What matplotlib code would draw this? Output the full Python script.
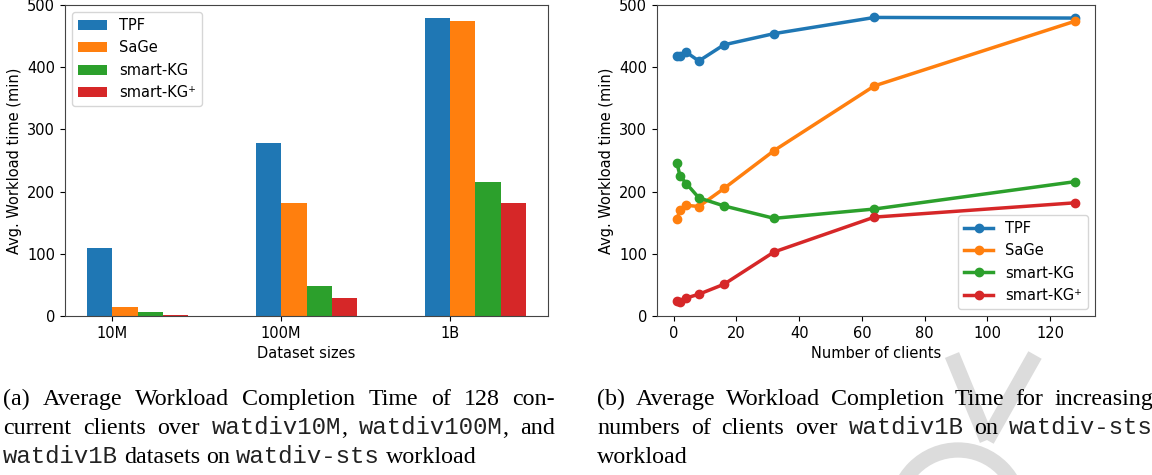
import matplotlib
matplotlib.use('Agg')
import matplotlib.pyplot as plt
import numpy as np
from matplotlib.transforms import IdentityTransform
from matplotlib.patches import Circle

# bar chart data (left)
datasets = ['10M', '100M', '1B']
systems = ['TPF', 'SaGe', 'smart-KG', 'smart-KG\u207a']
bar_tpf = [110, 278, 479]
bar_sage = [15, 181, 474]
bar_skg = [7, 48, 215]
bar_skgp = [2, 29, 181]

# line chart data (right)
clients = [1, 2, 4, 8, 16, 32, 64, 128]
line_tpf = [418, 418, 424, 410, 436, 454, 480, 479]
line_sage = [156, 170, 178, 176, 205, 266, 370, 474]
line_skg = [246, 225, 213, 190, 177, 157, 172, 216]
line_skgp = [24, 23, 29, 35, 51, 103, 159, 182]

plt.rcParams['font.size'] = 10.5

W, H = 1152, 475
fig = plt.figure(figsize=(W / 100, H / 100), dpi=100)

# watermark in a full-figure background axes, pixel coords
bg = fig.add_axes([0, 0, 1, 1], zorder=-1)
bg.set_xlim(0, W)
bg.set_ylim(H, 0)
bg.axis('off')
wm = '#dcdcdc'
bg.add_patch(Circle((958, 512), 62, fill=False, ec=wm, lw=11))
bg.plot([952, 987], [355, 440], color=wm, lw=11, solid_capstyle='butt')
bg.plot([1035, 987], [355, 440], color=wm, lw=11, solid_capstyle='butt')

# --- left: bars
ax1 = fig.add_axes([65 / W, 159 / H, 483 / W, 311 / H])
x = np.arange(len(datasets))
w = 0.15
for i, (vals, name) in enumerate(zip([bar_tpf, bar_sage, bar_skg, bar_skgp], systems)):
    ax1.bar(x + (i - 0.5) * w, vals, w, label=name)
ax1.set_xticks(x)
ax1.set_xticklabels(datasets)
ax1.set_ylim(0, 500)
ax1.set_xlabel('Dataset sizes')
ax1.set_ylabel('Avg. Workload time (min)')
ax1.legend(loc='upper left')

# --- right: lines
ax2 = fig.add_axes([657 / W, 159 / H, 438 / W, 311 / H])
for vals, name in zip([line_tpf, line_sage, line_skg, line_skgp], systems):
    ax2.plot(clients, vals, marker='o', lw=2.5, ms=6, label=name)
ax2.set_ylim(0, 500)
ax2.set_xlabel('Number of clients')
ax2.set_ylabel('Avg. Workload time (min)')
ax2.legend(loc='lower right')

for ax in (ax1, ax2):
    for s in ax.spines.values():
        s.set_color('#444444')

# --- captions, justified like the paper
SERIF = 'Liberation Serif'
MONO = 'Liberation Mono'
FS = 17.3

cap_a = [
    [[('(a)', SERIF)], [('Average', SERIF)], [('Workload', SERIF)], [('Completion', SERIF)],
     [('Time', SERIF)], [('of', SERIF)], [('128', SERIF)], [('con-', SERIF)]],
    [[('current', SERIF)], [('clients', SERIF)], [('over', SERIF)],
     [('watdiv10M', MONO), (',', SERIF)], [('watdiv100M', MONO), (',', SERIF)], [('and', SERIF)]],
    [[('watdiv1B', MONO)], [('datasets', SERIF)], [('on', SERIF)], [('watdiv-sts', MONO)],
     [('workload', SERIF)]],
]
cap_b = [
    [[('(b)', SERIF)], [('Average', SERIF)], [('Workload', SERIF)], [('Completion', SERIF)],
     [('Time', SERIF)], [('for', SERIF)], [('increasing', SERIF)]],
    [[('numbers', SERIF)], [('of', SERIF)], [('clients', SERIF)], [('over', SERIF)],
     [('watdiv1B', MONO)], [('on', SERIF)], [('watdiv-sts', MONO)]],
    [[('workload', SERIF)]],
]

renderer = fig.canvas.get_renderer()


def run_width(txt, fam):
    t = fig.text(0, 0, txt, family=fam, fontsize=FS)
    bb = t.get_window_extent(renderer)
    t.remove()
    return bb.width


def draw_caption(lines, x0, x1, baselines):
    for k, (words, yb) in enumerate(zip(lines, baselines)):
        widths = [[run_width(t, f) for t, f in word] for word in words]
        total = sum(sum(ws) for ws in widths)
        last = k == len(lines) - 1
        gap = run_width('a a', SERIF) - 2 * run_width('a', SERIF)
        if not last and len(words) > 1:
            gap = (x1 - x0 - total) / (len(words) - 1)
        xc = x0
        for word, ws in zip(words, widths):
            for (t, f), wd in zip(word, ws):
                fig.text(xc, H - yb, t, family=f, fontsize=FS, va='baseline', ha='left',
                         color='#222222' if f == MONO else 'black',
                         transform=IdentityTransform(), zorder=5)
                xc += wd
            xc += gap


draw_caption(cap_a, 3, 555, [405, 434, 463])
draw_caption(cap_b, 597, 1153, [405, 434, 463])

fig.savefig('out.png', dpi=100)
